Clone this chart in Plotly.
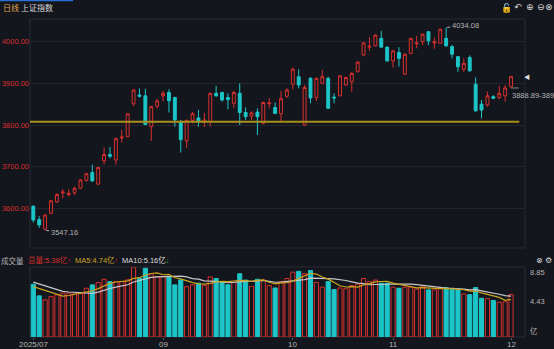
import plotly.graph_objects as go

# ---------------- data ----------------
opens = [3605, 3573, 3550, 3588, 3615, 3637, 3633, 3637, 3648, 3667,
         3686, 3658, 3714, 3729, 3716, 3769, 3772, 3851, 3872, 3870,
         3796, 3845, 3870, 3878, 3866, 3808, 3762, 3811, 3817, 3807,
         3808, 3876, 3878, 3866, 3852, 3876, 3830, 3821, 3831, 3804,
         3851, 3842, 3827, 3869, 3898, 3916, 3800, 3912, 3866, 3900,
         3912, 3867, 3870, 3896, 3904, 3928, 3968, 3987, 3990, 4008,
         3987, 3954, 3974, 3922, 3972, 3995, 4000, 4024, 3997, 3996,
         4008, 3988, 3964, 3934, 3962, 3898, 3850, 3848, 3868, 3866,
         3870, 3892]
highs = [3607, 3581, 3585, 3620, 3636, 3646, 3645, 3652, 3670, 3685,
         3705, 3700, 3746, 3747, 3770, 3788, 3828, 3886, 3888, 3887,
         3846, 3862, 3882, 3886, 3868, 3812, 3813, 3831, 3836, 3829,
         3878, 3894, 3880, 3876, 3882, 3900, 3842, 3833, 3840, 3856,
         3865, 3854, 3882, 3888, 3938, 3934, 3896, 3915, 3914, 3932,
         3916, 3876, 3919, 3916, 3928, 3953, 3999, 4011, 4017, 4026,
         3988, 3980, 3987, 3972, 4009, 4014, 4019, 4025, 4010, 4031,
         4034.08, 3992, 3966, 3960, 3967, 3914, 3860, 3880, 3872, 3894,
         3896, 3918]
lows = [3566, 3553, 3547.16, 3586, 3613, 3624, 3628, 3632, 3646, 3664,
        3663, 3656, 3705, 3720, 3705, 3758, 3771, 3845, 3866, 3800,
        3762, 3840, 3857, 3830, 3796, 3734, 3745, 3804, 3796, 3795,
        3796, 3868, 3856, 3838, 3840, 3800, 3812, 3812, 3776, 3802,
        3840, 3826, 3810, 3865, 3886, 3888, 3798, 3852, 3858, 3898,
        3838, 3852, 3869, 3895, 3880, 3926, 3965, 3978, 3989, 3985,
        3952, 3938, 3940, 3920, 3970, 3984, 3992, 3992, 3983, 3995,
        3988, 3960, 3928, 3928, 3929, 3832, 3816, 3844, 3862, 3862,
        3856, 3890]
closes = [3572, 3560, 3584, 3618, 3633, 3639, 3636, 3648, 3668, 3683,
          3666, 3698, 3729, 3725, 3767, 3771, 3827, 3884, 3869, 3801,
          3844, 3858, 3876, 3858, 3812, 3765, 3811, 3827, 3808, 3812,
          3876, 3870, 3860, 3861, 3878, 3830, 3820, 3829, 3820, 3854,
          3853, 3828, 3863, 3884, 3934, 3896, 3890, 3865, 3912, 3916,
          3840, 3865, 3918, 3914, 3924, 3951, 3997, 3989, 4016, 3987,
          3954, 3978, 3960, 3970, 4008, 3997, 4018, 4002, 4000, 4030,
          3990, 3970, 3940, 3948, 3930, 3834, 3836, 3870, 3864, 3876,
          3888.89, 3916]
volumes = [6.67, 5.20, 4.70, 5.11, 5.33, 5.54, 5.54, 5.45, 5.49, 6.17,
           6.59, 6.88, 7.30, 7.00, 7.00, 7.00, 7.22, 8.85, 7.43, 8.69,
           7.97, 7.63, 7.63, 7.63, 6.59, 7.22, 6.37, 6.59, 6.80, 6.50,
           7.60, 7.40, 6.90, 6.60, 6.90, 8.00, 7.20, 6.40, 7.30, 7.20,
           6.50, 6.20, 7.00, 7.40, 8.20, 8.30, 8.00, 8.40, 6.90, 6.30,
           7.00, 6.00, 6.20, 6.10, 6.50, 6.70, 7.40, 7.00, 7.20, 6.80,
           6.80, 6.30, 6.17, 6.30, 6.30, 6.05, 6.43, 5.96, 5.96, 6.17,
           6.25, 6.05, 5.95, 5.45, 5.35, 6.25, 4.90, 4.85, 4.62, 4.40,
           4.45, 5.38]
prior_volumes = [7.4, 7.6, 7.2, 7.8, 7.5, 6.4, 6.0, 6.3, 6.5]
tick_idx = [0, 22, 44, 61, 81]
tick_labels = ["2025/07", "09", "10", "11", "12"]
price_ticks = [3600, 3700, 3800, 3900, 4000]
support_level = 3808
title_period = "日线"
title_name = "上证指数"

# ---------------- styling ----------------
BG = "#14161d"
GRID = "#22252d"
FRAME = "#272b34"
RED = "#d8302e"
CYAN = "#1cc6c8"
YELLOW = "#c9a41f"
WHITE = "#c8c8c8"
GRAY = "#b4b4b4"
FONT = "Liberation Sans, Noto Sans CJK SC, sans-serif"
CJK = "Noto Sans CJK SC, sans-serif"

W, H = 554, 349
ML, MR, MT, MB = 30, 29, 19, 12
PW, PH = W - ML - MR, H - MT - MB


def px(xp):
    return (xp - ML) / PW


def py(yp):
    return (H - MB - yp) / PH


n = len(closes)
idx = list(range(n))
up = [c >= o for o, c in zip(opens, closes)]

full = prior_volumes + volumes
off = len(prior_volumes)


def ma(k):
    return [sum(full[off + i - k + 1: off + i + 1]) / k for i in range(n)]


ma5 = ma(5)
ma10 = ma(10)
vmax = max(volumes)

fig = go.Figure()
fig.add_trace(go.Candlestick(
    x=idx, open=opens, high=highs, low=lows, close=closes,
    increasing=dict(line=dict(color=RED, width=1), fillcolor=BG),
    decreasing=dict(line=dict(color=CYAN, width=1), fillcolor=CYAN),
    whiskerwidth=0, xaxis="x", yaxis="y", hoverinfo="skip", showlegend=False))

fig.add_trace(go.Bar(
    x=idx, y=volumes, width=0.7,
    marker=dict(color=[BG if u else CYAN for u in up],
                line=dict(color=[RED if u else CYAN for u in up], width=1)),
    xaxis="x", yaxis="y2", hoverinfo="skip", showlegend=False))
fig.add_trace(go.Scatter(x=idx, y=ma10, mode="lines", line=dict(color=WHITE, width=1.2),
                         xaxis="x", yaxis="y2", hoverinfo="skip", showlegend=False))
fig.add_trace(go.Scatter(x=idx, y=ma5, mode="lines", line=dict(color=YELLOW, width=1.2),
                         xaxis="x", yaxis="y2", hoverinfo="skip", showlegend=False))

xr = [-0.56, 83.37]
yr = [3504.7, 4054.5]
fig.update_layout(
    width=W, height=H, margin=dict(l=ML, r=MR, t=MT, b=MB, autoexpand=False),
    paper_bgcolor=BG, plot_bgcolor=BG, showlegend=False,
    font=dict(family=FONT, size=8, color=GRAY),
    xaxis=dict(domain=[0, 1], range=xr, anchor="y2", tickvals=tick_idx, showticklabels=False,
               ticks="outside", ticklen=2, tickcolor="#555a63",
               showgrid=False, zeroline=False, showline=False, automargin=False,
               rangeslider=dict(visible=False)),
    yaxis=dict(domain=[0.2799, 1], range=yr, tickvals=price_ticks, automargin=False,
               ticktext=[f"{v:.2f}" for v in price_ticks], tickfont=dict(size=7.5, color=RED),
               showgrid=True, gridcolor=GRID, gridwidth=1, zeroline=False, ticks="", side="left"),
    yaxis3=dict(overlaying="y", range=yr, tickvals=price_ticks, side="right", anchor="x",
                ticktext=[f"{v:.2f}" for v in price_ticks], tickfont=dict(size=7.5, color=RED),
                showgrid=False, zeroline=False, ticks="", automargin=False),
    yaxis2=dict(domain=[0, 0.2201], range=[0, vmax], showticklabels=False,
                showgrid=False, zeroline=False, automargin=False),
)

shapes = [
    dict(type="rect", xref="paper", yref="y domain", x0=0, x1=1, y0=0, y1=1,
         line=dict(color=FRAME, width=1), layer="below"),
    dict(type="rect", xref="paper", yref="y2 domain", x0=0, x1=1, y0=0, y1=1,
         line=dict(color=FRAME, width=1), layer="below"),
    dict(type="line", xref="x", yref="y", x0=xr[0], x1=82.4, y0=support_level, y1=support_level,
         line=dict(color="#a98f1c", width=2), layer="above"),
    dict(type="line", xref="x", yref="y", x0=n - 1, x1=n + 0.3, y0=closes[-2], y1=closes[-2],
         line=dict(color="#8a8a8a", width=1)),
    dict(type="line", xref="paper", yref="paper", x0=px(0), x1=px(73), y0=py(0.5), y1=py(0.5),
         line=dict(color="#2a6fd6", width=1.5)),
]
fig.update_layout(shapes=shapes)

ann = []


def label(x, y, text, size=7.5, color=GRAY, family=FONT, xanchor="left", xref="paper", yref="paper"):
    ann.append(dict(x=x, y=y, xref=xref, yref=yref, text=text, showarrow=False,
                    xanchor=xanchor, yanchor="middle", font=dict(family=family, size=size, color=color)))


# x-axis labels (placed just under the volume panel)
for i, t in zip(tick_idx, tick_labels):
    label(i, py(344), t, size=8, xanchor="center", xref="x")
imax = highs.index(max(highs))
imin = lows.index(min(lows))
ann.append(dict(x=imax, y=highs[imax], xref="x", yref="y", text=f"{highs[imax]:.2f}",
                showarrow=True, arrowhead=0, arrowwidth=1, arrowcolor=GRAY, ax=19, ay=-2,
                font=dict(size=7.5, color=GRAY), standoff=1))
ann.append(dict(x=imin, y=lows[imin], xref="x", yref="y", text=f"{lows[imin]:.2f}",
                showarrow=True, arrowhead=0, arrowwidth=1, arrowcolor=GRAY, ax=19, ay=2,
                font=dict(size=7.5, color=GRAY), standoff=1))
ann.append(dict(x=n - 1, y=closes[-2], xref="x", yref="y", text=f"{closes[-2]:.2f}-389",
                showarrow=False, xanchor="left", yanchor="top", xshift=-1, yshift=-1,
                font=dict(size=7.5, color=GRAY)))
label(px(521.5), closes[-1], "◀", size=6, color="#e0e0e0", yref="y")
# header
label(px(1), py(8), title_period, size=8, color="#e0a050", family=CJK)
label(px(19), py(8), title_name, size=8, color="#d8d8d8", family=CJK)
for xx, t in [(506, "🔓"), (518, "↶"), (530, "⊕"), (541, "⊖"), (549, "⊗")]:
    label(px(xx), py(7), t, size=9, color="#d8d8d8", family="DejaVu Sans", xanchor="center")
for xx, t in [(539, "⊗"), (548, "⚙")]:
    label(px(xx), py(260), t, size=8, color="#d8d8d8", family="DejaVu Sans", xanchor="center")
# volume header
arrow5 = "↑" if ma5[-1] >= ma5[-2] else "↓"
arrow10 = "↑" if ma10[-1] >= ma10[-2] else "↓"
c5 = RED if arrow5 == "↑" else "#20c040"
c10 = RED if arrow10 == "↑" else "#20c040"
hy = py(260)
label(px(-1), hy, "成交量", family=CJK)
label(px(26), hy, f"总量:{volumes[-1]:.2f}亿<span style='color:{RED}'>↑</span>", color=RED)
label(px(73), hy, f"MA5:{ma5[-1]:.2f}亿<span style='color:{c5}'>{arrow5}</span>", color=YELLOW)
label(px(120), hy, f"MA10:{ma10[-1]:.2f}亿<span style='color:{c10}'>{arrow10}</span>", color="#dcdcdc")
# volume axis labels
for yy, t in [(py(272.7), f"{vmax:.2f}"), (py(301.7), f"{vmax / 2 + 1e-9:.2f}"), (py(331), "亿")]:
    label(px(528), yy, t)
fig.update_layout(annotations=ann)

fig.write_html("out.html")
